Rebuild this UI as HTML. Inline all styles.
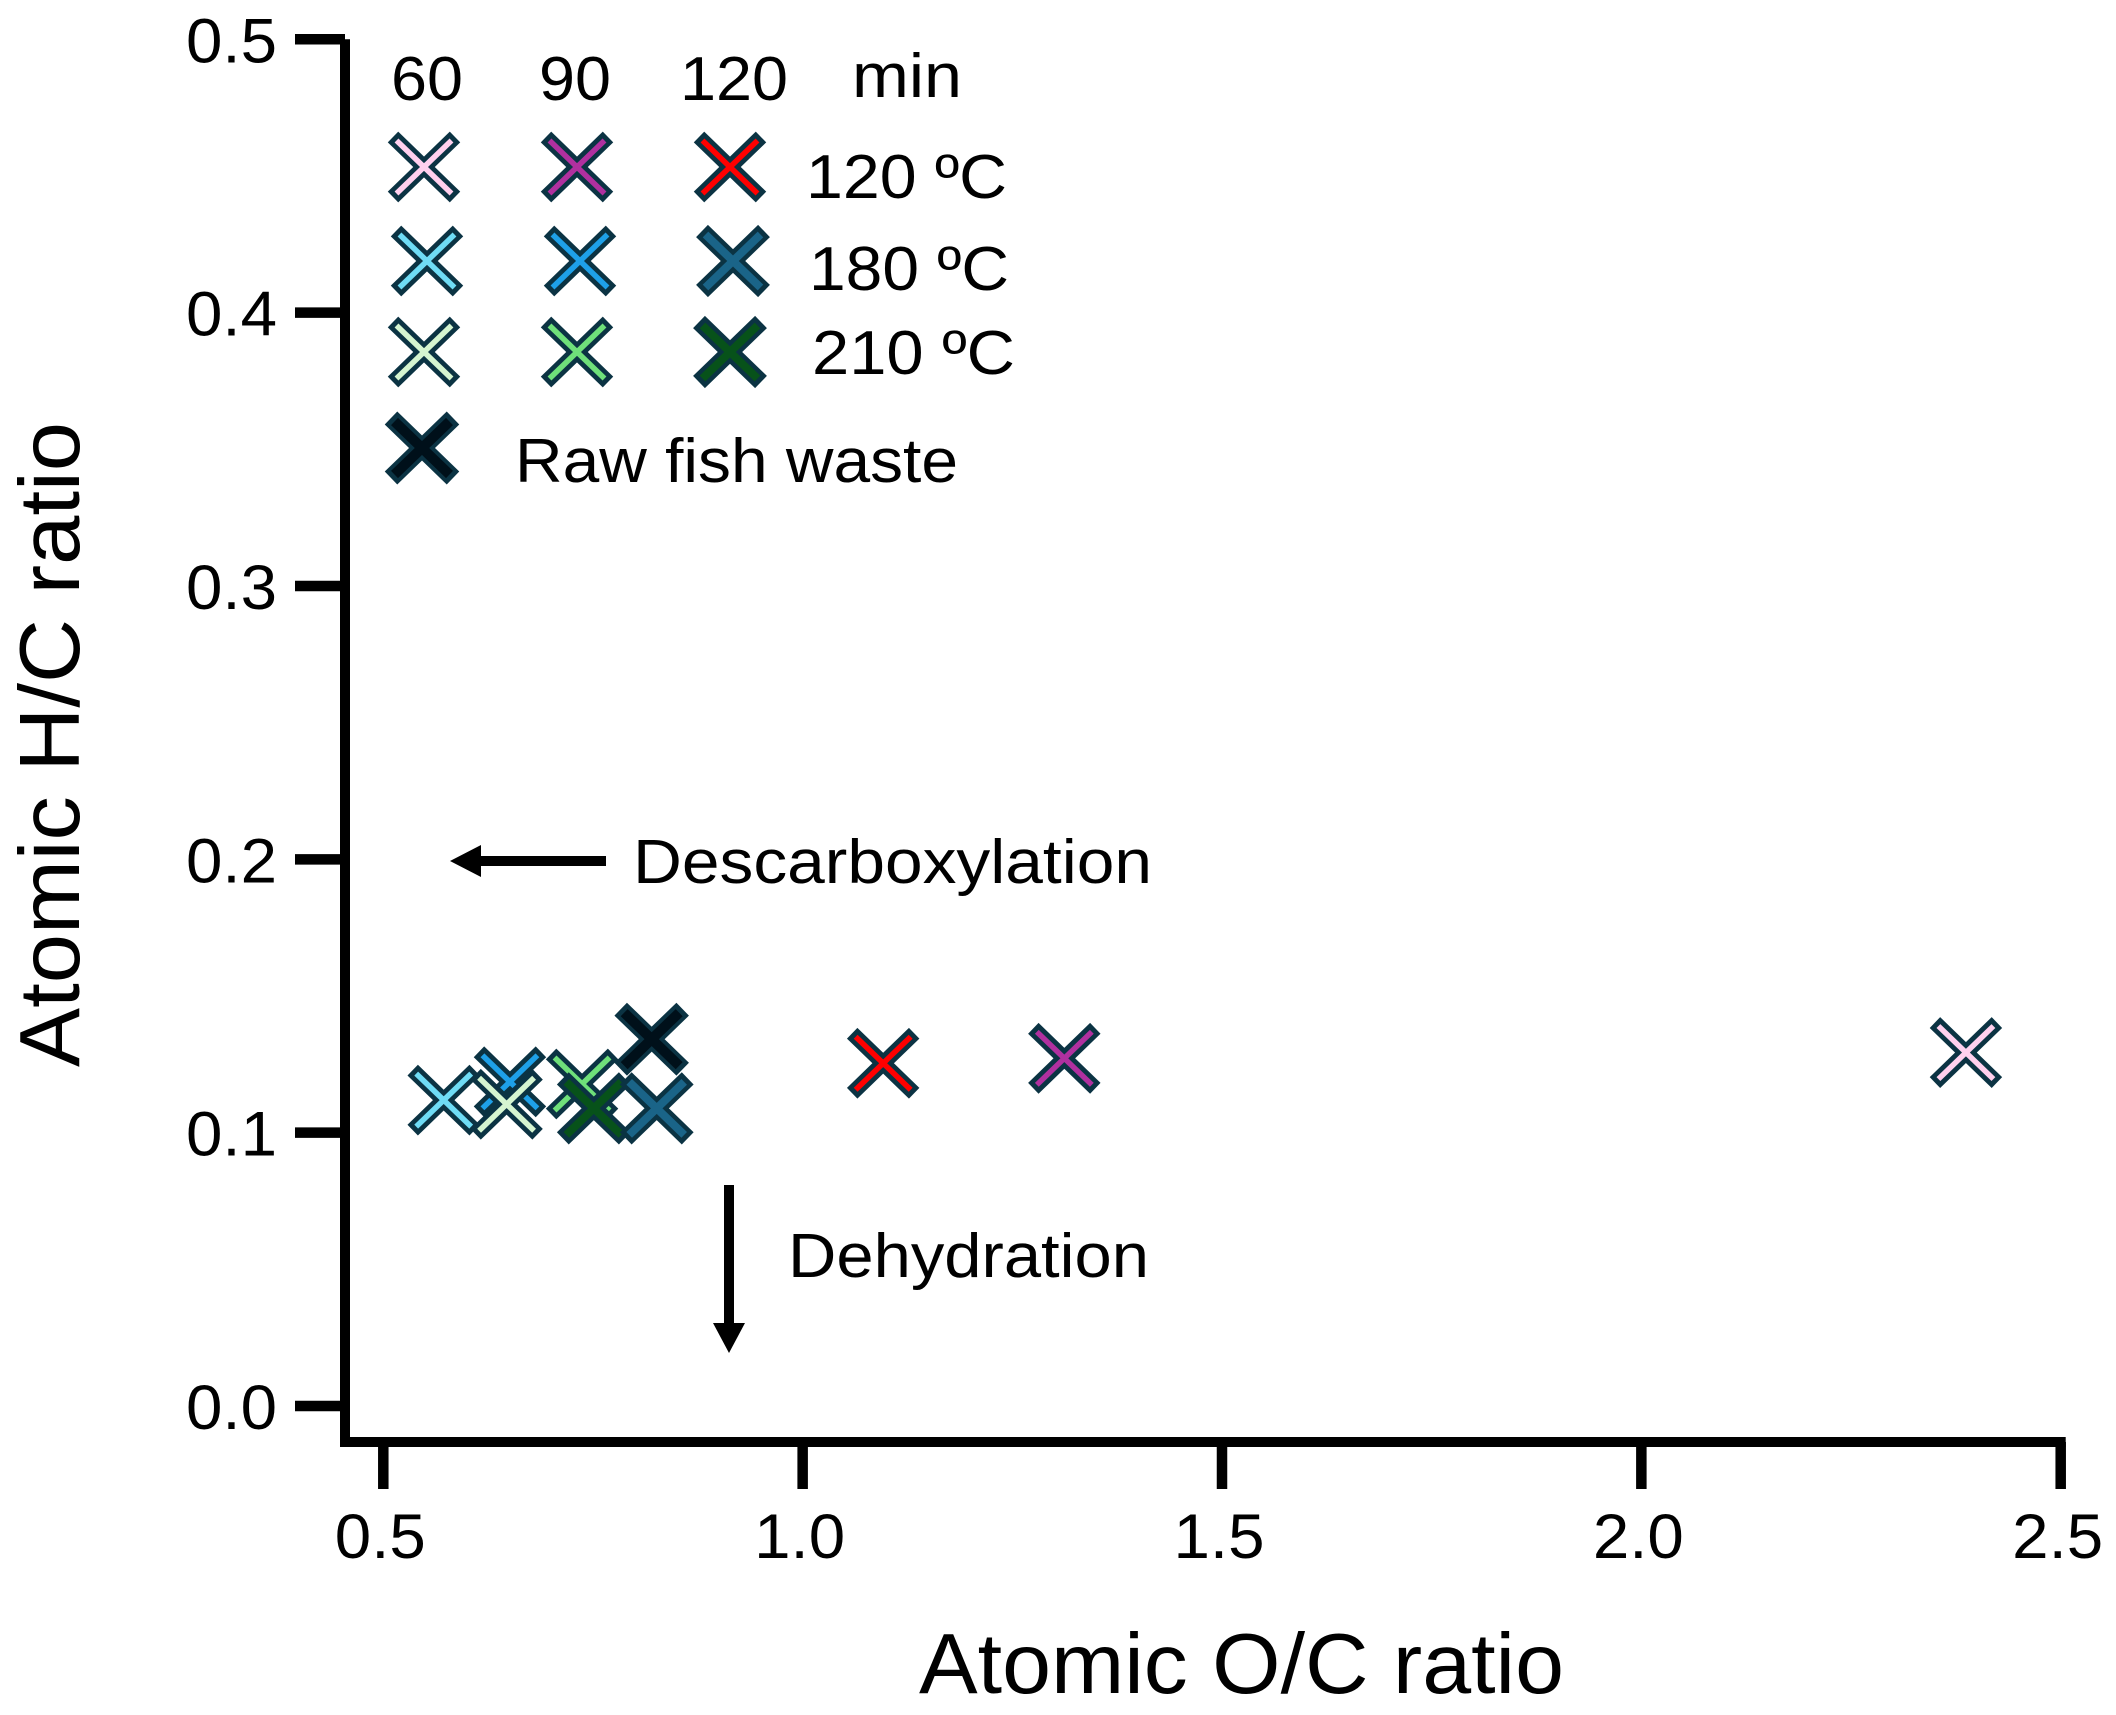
<!DOCTYPE html>
<html lang="en">
<head>
<meta charset="utf-8">
<title>Atomic H/C versus O/C ratio</title>
<style>
  html, body { margin: 0; padding: 0; background: #ffffff; }
  svg { display: block; }
  text { font-family: "Liberation Sans", sans-serif; fill: #000000; }
</style>
</head>
<body>
<svg id="chart" xmlns="http://www.w3.org/2000/svg" width="2116" height="1715" viewBox="0 0 2116 1715">
  <rect x="0" y="0" width="2116" height="1715" fill="#ffffff"/>

  <g id="axes"></g>
  <g id="marks"></g>

  <text x="919" y="1693" font-size="85" textLength="645" lengthAdjust="spacingAndGlyphs">Atomic O/C ratio</text>
  <text transform="translate(79 1067) rotate(-90)" font-size="85" textLength="645" lengthAdjust="spacingAndGlyphs">Atomic H/C ratio</text>

  <g id="legend">
    <text x="391" y="100" font-size="62" textLength="72" lengthAdjust="spacingAndGlyphs">60</text>
    <text x="539" y="100" font-size="62" textLength="72" lengthAdjust="spacingAndGlyphs">90</text>
    <text x="680" y="100" font-size="62" textLength="108" lengthAdjust="spacingAndGlyphs">120</text>
    <text x="852" y="97" font-size="62" textLength="110" lengthAdjust="spacingAndGlyphs">min</text>
    <text x="806" y="198" font-size="62" textLength="201" lengthAdjust="spacingAndGlyphs">120 ºC</text>
    <text x="809" y="290" font-size="62" textLength="200" lengthAdjust="spacingAndGlyphs">180 ºC</text>
    <text x="812" y="374" font-size="62" textLength="203" lengthAdjust="spacingAndGlyphs">210 ºC</text>
    <text x="515" y="482" font-size="62" textLength="443" lengthAdjust="spacingAndGlyphs">Raw fish waste</text>
  </g>

  <g>
    <path d="M450 861 L481 845 L481 856 L606 856 L606 866 L481 866 L481 877 Z" fill="#000000"/>
    <text x="633" y="883" font-size="62" textLength="519" lengthAdjust="spacingAndGlyphs">Descarboxylation</text>
  </g>
  <g>
    <path d="M729 1353 L713 1323 L724 1323 L724 1185 L734 1185 L734 1323 L745 1323 Z" fill="#000000"/>
    <text x="788" y="1277" font-size="62" textLength="361" lengthAdjust="spacingAndGlyphs">Dehydration</text>
  </g>
</svg>

<script>
// Chart data
const sampleKeys = ['t120-60', 't120-90', 't120-120', 't180-60', 't180-90', 't180-120', 't210-60', 't210-90', 't210-120', 'raw'];
const atomicOC = [2.387, 1.312, 1.096, 0.572, 0.651, 0.826, 0.647, 0.737, 0.751, 0.820];
const atomicHC = [0.1293, 0.1272, 0.1254, 0.1119, 0.1186, 0.1089, 0.1104, 0.1178, 0.1089, 0.1342];
const xTickValues = [0.5, 1.0, 1.5, 2.0, 2.5];
const xTickLabels = ['0.5', '1.0', '1.5', '2.0', '2.5'];
const yTickValues = [0.0, 0.1, 0.2, 0.3, 0.4, 0.5];
const yTickLabels = ['0.0', '0.1', '0.2', '0.3', '0.4', '0.5'];
const drawOrder = ['t120-60', 't120-90', 't120-120', 't180-90', 't180-60', 't210-90', 't210-120', 't210-60', 't180-120', 'raw'];

// Marker styles
const markerStyle = {
  't120-60':  { fill: '#ffd0ee', weight: 'thin' },
  't120-90':  { fill: '#b0309f', weight: 'thin' },
  't120-120': { fill: '#ff0000', weight: 'thin' },
  't180-60':  { fill: '#6fdcf5', weight: 'thin' },
  't180-90':  { fill: '#1ea0e8', weight: 'thin' },
  't180-120': { fill: '#1a6488', weight: 'thick' },
  't210-60':  { fill: '#d5f5d0', weight: 'thin' },
  't210-90':  { fill: '#6fe07a', weight: 'thin' },
  't210-120': { fill: '#07521a', weight: 'thick' },
  'raw':      { fill: '#00101a', weight: 'heavy' }
};
const weights = {
  thin:  { outer: 15, inner: 5.5 },
  thick: { outer: 17, inner: 8 },
  heavy: { outer: 18, inner: 10 }
};

const SVG_NS = 'http://www.w3.org/2000/svg';

// Axis functions
function xScale(v) { return 383.3 + (v - 0.5) * 838.7; }
function yScale(v) { return 1406 - v * 2733.4; }

function drawMarker(parent, cx, cy, key, name) {
  const style = markerStyle[key];
  const w = weights[style.weight];
  const g = document.createElementNS(SVG_NS, 'g');
  
  
  const layers = [
    { stroke: '#0b3343', width: w.outer, dx: 31, dy: 30 },
    { stroke: style.fill, width: w.inner, dx: 27.5, dy: 26.5 }
  ];
  layers.forEach(function (layer) {
    [1, -1].forEach(function (sign) {
      const line = document.createElementNS(SVG_NS, 'line');
      line.setAttribute('x1', cx - layer.dx);
      line.setAttribute('y1', cy - sign * layer.dy);
      line.setAttribute('x2', cx + layer.dx);
      line.setAttribute('y2', cy + sign * layer.dy);
      line.setAttribute('stroke', layer.stroke);
      line.setAttribute('stroke-width', layer.width);
      g.appendChild(line);
    });
  });
  parent.appendChild(g);
}

// Axes
const axes = document.getElementById('axes');
const axisPath = document.createElementNS(SVG_NS, 'path');


axisPath.setAttribute('d', 'M345 ' + yScale(0.5) + ' L345 1442 L' + (xScale(2.5) + 5) + ' 1442');
axisPath.setAttribute('fill', 'none');
axisPath.setAttribute('stroke', '#000000');
axisPath.setAttribute('stroke-width', '10');
axisPath.setAttribute('stroke-linejoin', 'miter');
axes.appendChild(axisPath);

xTickValues.forEach(function (v, i) {
  const tick = document.createElementNS(SVG_NS, 'line');
  
  
  tick.setAttribute('x1', xScale(v));
  tick.setAttribute('x2', xScale(v));
  tick.setAttribute('y1', 1442);
  tick.setAttribute('y2', 1489);
  tick.setAttribute('stroke', '#000000');
  tick.setAttribute('stroke-width', '10.5');
  axes.appendChild(tick);

  const label = document.createElementNS(SVG_NS, 'text');
  
  
  label.setAttribute('x', xScale(v) - 3);
  label.setAttribute('y', 1558);
  label.setAttribute('font-size', '63');
  label.setAttribute('text-anchor', 'middle');
  label.setAttribute('textLength', '91');
  label.setAttribute('lengthAdjust', 'spacingAndGlyphs');
  label.textContent = xTickLabels[i];
  axes.appendChild(label);
});

yTickValues.forEach(function (v, i) {
  const tick = document.createElementNS(SVG_NS, 'line');
  
  
  tick.setAttribute('x1', 295);
  tick.setAttribute('x2', 345);
  tick.setAttribute('y1', yScale(v));
  tick.setAttribute('y2', yScale(v));
  tick.setAttribute('stroke', '#000000');
  tick.setAttribute('stroke-width', '10.5');
  axes.appendChild(tick);

  const label = document.createElementNS(SVG_NS, 'text');
  
  
  label.setAttribute('x', 277);
  label.setAttribute('y', yScale(v) + 23);
  label.setAttribute('font-size', '63');
  label.setAttribute('text-anchor', 'end');
  label.setAttribute('textLength', '91');
  label.setAttribute('lengthAdjust', 'spacingAndGlyphs');
  label.textContent = yTickLabels[i];
  axes.appendChild(label);
});

// Data points
const marks = document.getElementById('marks');
drawOrder.forEach(function (key) {
  const i = sampleKeys.indexOf(key);
  drawMarker(marks, xScale(atomicOC[i]), yScale(atomicHC[i]), key, 'point-' + key);
});

// Legend markers
const legend = document.getElementById('legend');
drawMarker(legend, 424, 167, 't120-60', 'legend-marker-120c-60min');
drawMarker(legend, 577, 167, 't120-90', 'legend-marker-120c-90min');
drawMarker(legend, 730, 167, 't120-120', 'legend-marker-120c-120min');
drawMarker(legend, 427, 261, 't180-60', 'legend-marker-180c-60min');
drawMarker(legend, 580, 261, 't180-90', 'legend-marker-180c-90min');
drawMarker(legend, 733, 261, 't180-120', 'legend-marker-180c-120min');
drawMarker(legend, 424, 352, 't210-60', 'legend-marker-210c-60min');
drawMarker(legend, 577, 352, 't210-90', 'legend-marker-210c-90min');
drawMarker(legend, 730, 352, 't210-120', 'legend-marker-210c-120min');
drawMarker(legend, 422, 448, 'raw', 'legend-marker-raw');
</script>
</body>
</html>
